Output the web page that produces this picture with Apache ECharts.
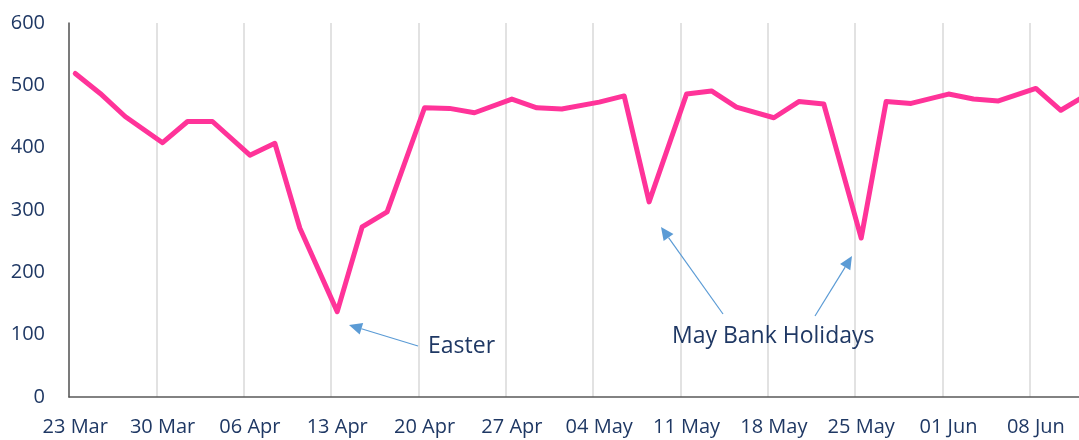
<!DOCTYPE html>
<html>
<head>
<meta charset="utf-8">
<script src="https://cdn.jsdelivr.net/npm/echarts@6/dist/echarts.min.js"></script>
<style>
  html, body { margin: 0; padding: 0; background: #fff; overflow: hidden; }
  /* the plot runs a little past the right edge of the window, as in the source */
  #main { width: 1092px; height: 440px; }
</style>
</head>
<body>
<div id="main"></div>
<script>
// dates that have a reading (Mon / Wed / Fri)
var pointDates = [
  "23 Mar", "25 Mar", "27 Mar", "30 Mar", "01 Apr", "03 Apr",
  "06 Apr", "08 Apr", "10 Apr", "13 Apr", "15 Apr", "17 Apr",
  "20 Apr", "22 Apr", "24 Apr", "27 Apr", "29 Apr", "01 May",
  "04 May", "06 May", "08 May", "11 May", "13 May", "15 May",
  "18 May", "20 May", "22 May", "25 May", "27 May", "29 May",
  "01 Jun", "03 Jun", "05 Jun", "08 Jun", "10 Jun", "12 Jun"
];
var values = [
  519, 487, 450, 408, 442, 442,
  388, 407, 271, 137, 273, 297,
  464, 463, 456, 478, 464, 462,
  473, 483, 313, 486, 491, 465,
  448, 474, 470, 255, 474, 471,
  486, 478, 475, 495, 460, 484
];
var yTicks = [0, 100, 200, 300, 400, 500, 600];

// daily category axis from 23 Mar to 12 Jun
var months = ["Jan", "Feb", "Mar", "Apr", "May", "Jun", "Jul", "Aug", "Sep", "Oct", "Nov", "Dec"];
var days = [];
var d = new Date(2020, 2, 23);
var end = new Date(2020, 5, 12);
while (d <= end) {
  var dd = d.getDate();
  days.push((dd < 10 ? "0" + dd : "" + dd) + " " + months[d.getMonth()]);
  d.setDate(d.getDate() + 1);
}

var seriesData = pointDates.map(function (name, i) {
  return [name, values[i]];
});

var textColor = "#1F3864";
var font = "'Open Sans', 'Noto Sans', sans-serif";
var arrowColor = "#5B9BD5";

var myChart = echarts.init(document.getElementById("main"));
myChart.setOption({
  animation: false,
  grid: {
    left: 69,
    right: 0,
    top: 23,
    bottom: 43,
    containLabel: false
  },
  xAxis: {
    type: "category",
    data: days,
    boundaryGap: true,
    axisLine: { show: true, lineStyle: { color: "#595959", width: 1.5 } },
    axisTick: { show: false },
    axisLabel: {
      interval: 6,
      margin: 20,
      color: textColor,
      fontFamily: font,
      fontSize: 20
    },
    splitLine: {
      show: true,
      interval: 6,
      lineStyle: { color: "#D9D9D9", width: 1.5 }
    }
  },
  yAxis: {
    type: "value",
    min: yTicks[0],
    max: yTicks[yTicks.length - 1],
    interval: 100,
    axisLine: { show: true, lineStyle: { color: "#595959", width: 1.5 } },
    axisTick: { show: false },
    splitLine: { show: false },
    axisLabel: {
      margin: 24,
      color: textColor,
      fontFamily: font,
      fontSize: 20
    }
  },
  series: [
    {
      type: "line",
      data: seriesData,
      symbol: "none",
      smooth: false,
      lineStyle: { color: "#FF3399", width: 5, join: "round", cap: "round" }
    }
  ]
});

// annotation arrows and labels
function arrow(x1, y1, x2, y2) {
  var dx = x2 - x1, dy = y2 - y1;
  var len = Math.sqrt(dx * dx + dy * dy);
  var ux = dx / len, uy = dy / len;
  var L = 13, w = 6;
  var bx = x2 - ux * L, by = y2 - uy * L;
  return [
    {
      type: "line",
      shape: { x1: x1, y1: y1, x2: bx, y2: by },
      style: { stroke: arrowColor, lineWidth: 1.2 }
    },
    {
      type: "polygon",
      shape: { points: [[x2, y2], [bx - uy * w, by + ux * w], [bx + uy * w, by - ux * w]] },
      style: { fill: arrowColor }
    }
  ];
}

var elements = []
  .concat(arrow(418, 346, 349, 325))
  .concat(arrow(723, 314, 661, 227))
  .concat(arrow(815, 316, 852, 256));
elements.push({
  type: "text",
  x: 428, y: 346,
  style: { text: "Easter", fill: textColor, font: "23px " + font, verticalAlign: "middle" }
});
elements.push({
  type: "text",
  x: 672, y: 336,
  style: { text: "May Bank Holidays", fill: textColor, font: "23px " + font, verticalAlign: "middle" }
});
myChart.setOption({ graphic: { elements: elements } });
</script>
</body>
</html>
